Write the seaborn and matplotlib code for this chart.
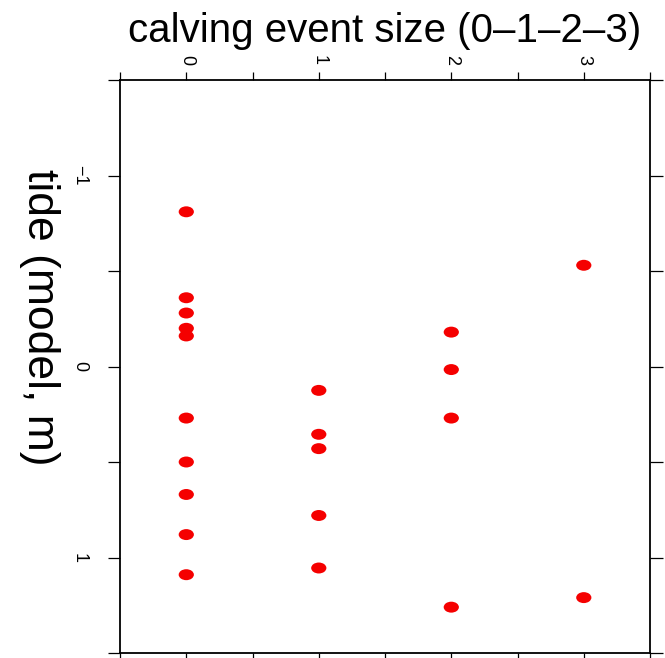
import numpy as np
import pandas as pd
import matplotlib
matplotlib.use("Agg")
import matplotlib.pyplot as plt
from matplotlib.path import Path
from matplotlib.ticker import FixedLocator
import seaborn as sns

# data: calving event size (category) vs modelled tide (m)
size_0 = [-0.81, -0.36, -0.28, -0.20, -0.16, 0.27, 0.50, 0.67, 0.88, 1.09]
size_1 = [0.125, 0.355, 0.43, 0.78, 1.055]
size_2 = [-0.18, 0.016, 0.27, 1.26]
size_3 = [-0.53, 1.21]
xticks = [0, 1, 2, 3]
yticks = [-1, 0, 1]

sizes = [0] * len(size_0) + [1] * len(size_1) + [2] * len(size_2) + [3] * len(size_3)
tides = size_0 + size_1 + size_2 + size_3
df = pd.DataFrame({"size": sizes, "tide": tides})

sns.set_theme(style="ticks")
plt.rcParams["font.family"] = ["Liberation Sans", "DejaVu Sans"]
plt.rcParams["text.color"] = "black"
plt.rcParams["axes.labelcolor"] = "black"
plt.rcParams["xtick.color"] = "black"
plt.rcParams["ytick.color"] = "black"

fig = plt.figure(figsize=(6.65, 6.58), dpi=100)
ax = fig.add_axes([0.1805, 0.0076, 0.797, 0.8708])

circ = Path.unit_circle()
ell = Path(circ.vertices * np.array([1.0, 0.72]), circ.codes)

sns.scatterplot(data=df, x="size", y="tide", ax=ax, marker=ell, s=120,
                color="#f50000", edgecolor="none", linewidth=0, legend=False)

ax.set_xlim(-0.5, 3.5)
ax.set_ylim(1.5, -1.5)
ax.xaxis.set_major_locator(FixedLocator(xticks))
ax.xaxis.set_minor_locator(FixedLocator([-0.5, 0.5, 1.5, 2.5, 3.5]))
ax.yaxis.set_major_locator(FixedLocator(yticks))
ax.yaxis.set_minor_locator(FixedLocator([-1.5, -0.5, 0.5, 1.5]))

for s in ax.spines.values():
    s.set_linewidth(1.3)
    s.set_color("black")

ax.tick_params(axis="both", which="both", direction="out", width=0.9,
               color="black", labelcolor="black", labelsize=13)
ax.tick_params(axis="x", which="both", top=True, bottom=True, length=6,
               labeltop=True, labelbottom=False, pad=5)
ax.tick_params(axis="y", which="both", left=True, right=True, length=9,
               labelleft=True, labelright=False, pad=14)
ax.set_xticklabels([str(v) for v in xticks], rotation=-90, va="bottom", ha="center")
ax.set_yticklabels(["\u22121" if v < 0 else str(v) for v in yticks],
                   rotation=-90, va="center", ha="right")

ax.xaxis.set_label_position("top")
ax.set_xlabel("calving event size (0\u20131\u20132\u20133)", fontsize=29,
              labelpad=9, color="black")
ax.set_ylabel("tide (model, m)", fontsize=32, rotation=-90, color="black")
ax.yaxis.set_label_coords(-0.19, 0.586)
ax.grid(False)

fig.savefig("out.png", dpi=100)
